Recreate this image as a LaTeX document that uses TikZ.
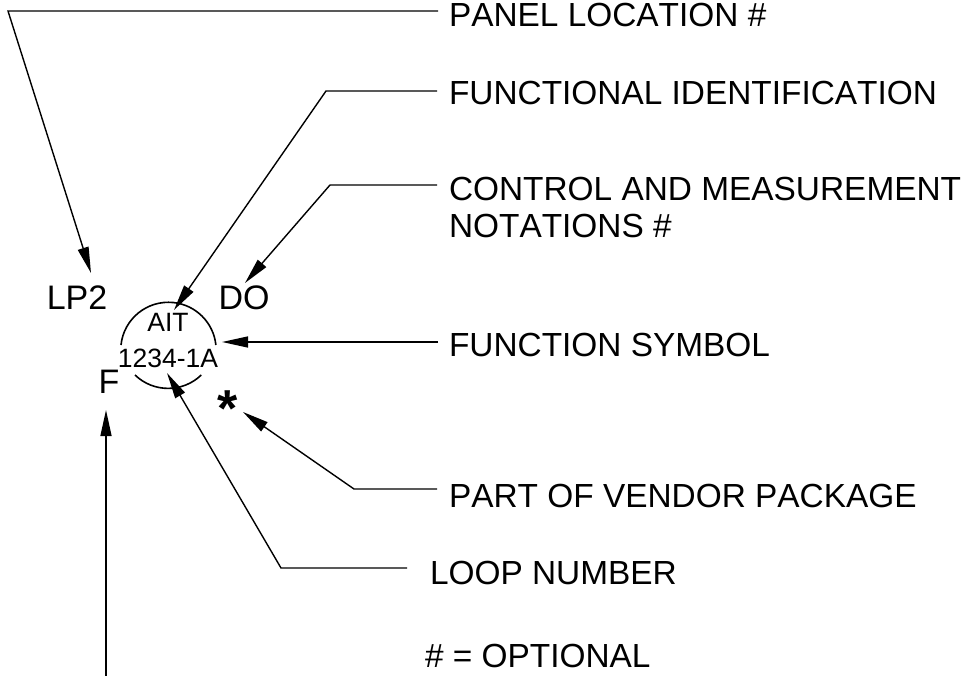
\documentclass[tikz,border=0pt]{standalone}
\usepackage{fontspec}
\setmainfont[Kerning=Off]{Liberation Sans}
\usetikzlibrary{arrows.meta}
\tikzset{
  lbl/.style={anchor=base west,inner sep=0pt,outer sep=0pt,font=\fontsize{33.4}{37}\selectfont,align=left},
  sym/.style={anchor=base,inner sep=0pt,outer sep=0pt,font=\fontsize{34}{34}\selectfont},
  tag/.style={anchor=base,inner sep=0pt,outer sep=0pt,font=\fontsize{26.5}{26.5}\selectfont},
  lead/.style={line width=1.4pt,-{Triangle[length=26pt,width=11pt]}},
  arcline/.style={line width=1.6pt}
}
\begin{document}
\begin{tikzpicture}[x=1pt,y=-1pt]
\useasboundingbox (0,0) rectangle (961,676);
\node[lbl] (panel) at (449,27) {PANEL LOCATION \#};
\node[lbl] (func) at (449,105) {FUNCTIONAL IDENTIFICATION};
\node[lbl,anchor=north west] (ctrl) at (449,177) {CONTROL AND MEASUREMENT\\NOTATIONS \#};
\node[lbl] (fsym) at (449,356) {FUNCTION SYMBOL};
\node[lbl] (vend) at (449,507) {PART OF VENDOR PACKAGE};
\node[lbl] (loop) at (430,584) {LOOP NUMBER};
\node[lbl] (opt) at (425,667) {\# = OPTIONAL};
\node[sym] (lp) at (77,309) {LP2};
\node[sym] (do) at (244,309) {DO};
\node[sym] (f) at (109,393) {F};
\node[sym,font=\fontsize{52}{52}\bfseries\selectfont] (star) at (228,426) {*};
\node[tag] (ait) at (168,331) {AIT};
\node[tag] (num) at (168,367) {1234-1A};
\coordinate (c) at (168.5,340);
\coordinate (ul) at (121,345);
\coordinate (ur) at (216,345);
\coordinate (ll) at (135,375);
\coordinate (lr) at (202,375);
\draw[arcline] (ul) arc[start angle=186,end angle=354,radius=47.7];
\draw[arcline] (ll) arc[start angle=134,end angle=46,radius=47.7];
\coordinate (pa) at (438,11);\coordinate (pb) at (8,11);\coordinate (pt) at (91,273);
\coordinate (fa) at (437,91);\coordinate (fb) at (326,91);\coordinate (ft) at (174,310);
\coordinate (ca) at (437,185);\coordinate (cb) at (330,185);\coordinate (ct) at (245,283);
\coordinate (sa) at (438,342);\coordinate (st) at (222,342);
\coordinate (va) at (437,489);\coordinate (vb) at (354,489);\coordinate (vt) at (243,412);
\coordinate (la) at (407,568);\coordinate (lb) at (281,568);\coordinate (lt) at (167,373);
\coordinate (xa) at (106,676);\coordinate (xt) at (106,410);
\draw[lead] (pa) -- (pb) -- (pt);
\draw[lead] (fa) -- (fb) -- (ft);
\draw[lead] (ca) -- (cb) -- (ct);
\draw[lead] (sa) -- (st);
\draw[lead] (va) -- (vb) -- (vt);
\draw[lead] (la) -- (lb) -- (lt);
\draw[lead] (xa) -- (xt);
\end{tikzpicture}
\end{document}
